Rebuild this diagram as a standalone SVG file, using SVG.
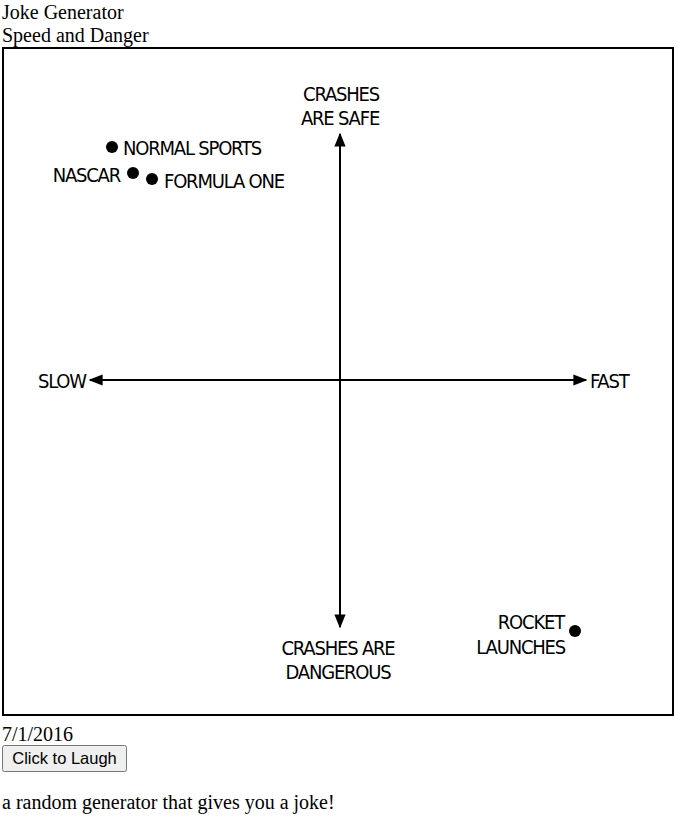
<svg xmlns="http://www.w3.org/2000/svg" width="678" height="822" viewBox="0 0 678 822">
<style>
.page{font-family:"Liberation Serif","Times New Roman",serif;font-size:20px;fill:#000}
.hand{font-family:"DejaVu Sans Condensed","DejaVu Sans",sans-serif;font-size:20px;fill:#000;letter-spacing:-1.2px}
.axis{stroke:#000;stroke-width:2;fill:none}
.dot{fill:#000}
</style>
<defs>
<marker id="ah" viewBox="0 0 10 10" refX="9" refY="5" markerWidth="7" markerHeight="7" orient="auto-start-reverse" markerUnits="strokeWidth">
<path d="M0,1 L10,5 L0,9 Z" fill="#000"/>
</marker>
</defs>
<rect width="678" height="822" fill="#fff"/>
<text class="page" x="2" y="19">Joke Generator</text>
<text class="page" x="2" y="42">Speed and Danger</text>
<rect x="3" y="48" width="670" height="667" fill="#fff" stroke="#000" stroke-width="2"/>
<g id="connectors">
<line class="axis" x1="340" y1="627" x2="340" y2="134" marker-start="url(#ah)" marker-end="url(#ah)"/>
<line class="axis" x1="90" y1="380" x2="586" y2="380" marker-start="url(#ah)" marker-end="url(#ah)"/>
</g>
<g id="crashes-safe"><text class="hand" x="341" y="101" text-anchor="middle">CRASHES</text><text class="hand" x="340" y="125" text-anchor="middle">ARE SAFE</text></g>
<g id="crashes-dangerous"><text class="hand" x="338" y="655" text-anchor="middle">CRASHES ARE</text><text class="hand" x="338" y="679" text-anchor="middle">DANGEROUS</text></g>
<g id="slow"><text class="hand" x="38" y="388">SLOW</text></g>
<g id="fast"><text class="hand" x="590" y="388">FAST</text></g>
<g id="normal-sports"><circle class="dot" cx="112" cy="147" r="6"/><text class="hand" x="123" y="155">NORMAL SPORTS</text></g>
<g id="nascar"><circle class="dot" cx="133" cy="173" r="6"/><text class="hand" x="120" y="182" text-anchor="end">NASCAR</text></g>
<g id="formula-one"><circle class="dot" cx="152" cy="179" r="6"/><text class="hand" x="164" y="188">FORMULA ONE</text></g>
<g id="rocket-launches"><circle class="dot" cx="575" cy="631" r="6"/><text class="hand" x="564" y="629" text-anchor="end">ROCKET</text><text class="hand" x="565" y="654" text-anchor="end">LAUNCHES</text></g>
<text class="page" x="2" y="741">7/1/2016</text>
<g id="button"><rect x="2.5" y="745.5" width="124" height="26" rx="2" fill="#efefef" stroke="#767676"/><text x="64.5" y="764" text-anchor="middle" style="font-family:'Liberation Sans',Arial,sans-serif;font-size:16.5px;fill:#000">Click to Laugh</text></g>
<text class="page" x="2" y="809">a random generator that gives you a joke!</text>
</svg>
